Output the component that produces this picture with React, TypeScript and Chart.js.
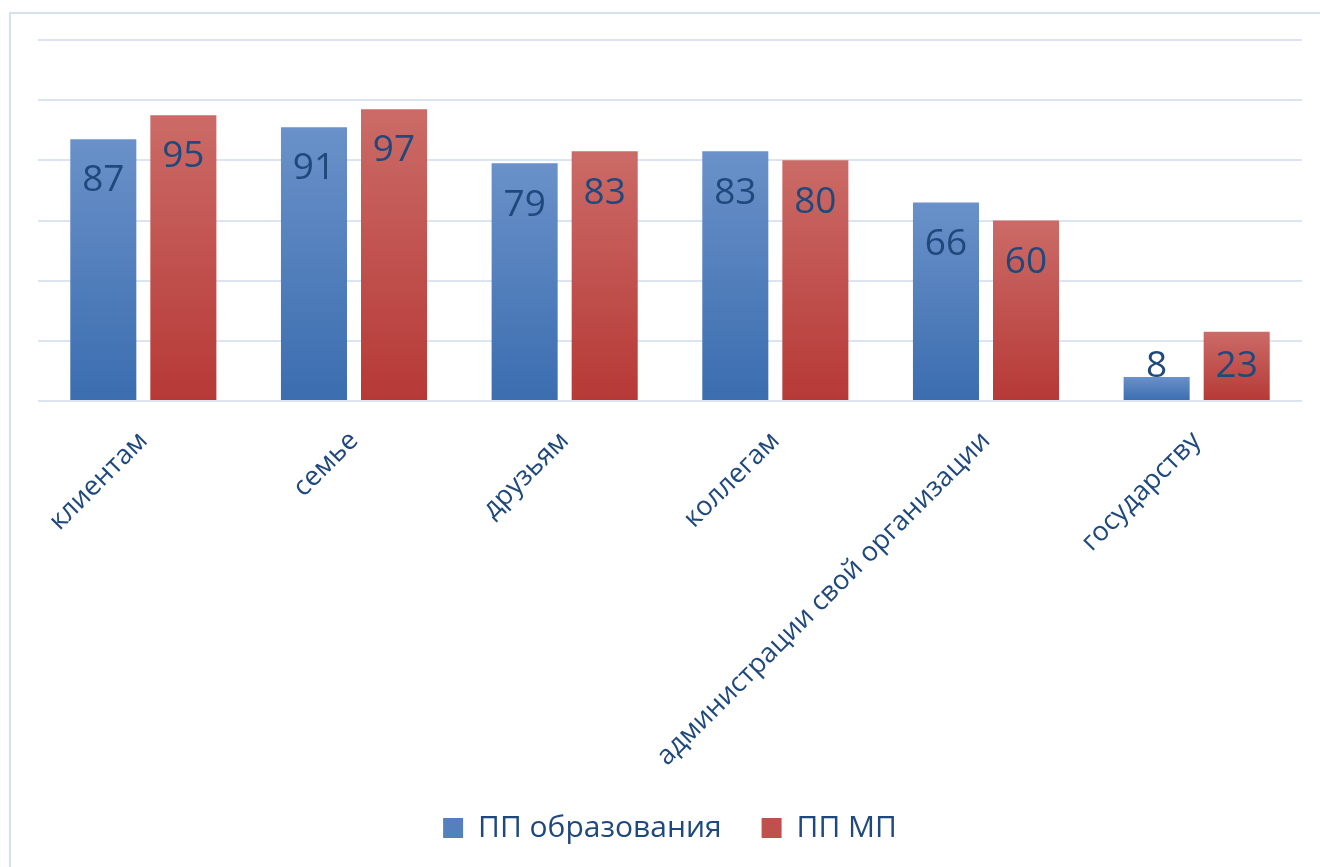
import React, { useEffect, useRef } from "react";
import { Chart, registerables } from "chart.js";

Chart.register(...registerables);

const categories = [
  "клиентам",
  "семье",
  "друзьям",
  "коллегам",
  "администрации свой организации",
  "государству",
];
const seriesNames = ["ПП образования", "ПП МП"];
const educationValues = [87, 91, 79, 83, 66, 8];
const mpValues = [95, 97, 83, 80, 60, 23];
const yMax = 120;
const yStep = 20;

const TEXT_COLOR = "#1F497D";
const FONT = "'Open Sans', 'Noto Sans', sans-serif";

const palettes = [
  { top: "#6A91C9", bottom: "#3B6DAF", mid: "#5580BE" },
  { top: "#CB6B67", bottom: "#B63936", mid: "#C0504D" },
];

function barGradient(idx: number) {
  return (ctx: any) => {
    const chart = ctx.chart;
    const pal = palettes[idx];
    if (ctx.type !== "data" || !chart.scales || !chart.scales.y) return pal.mid;
    const y = chart.scales.y;
    const top = y.getPixelForValue(ctx.raw);
    const bottom = y.getPixelForValue(0);
    if (!isFinite(top) || !isFinite(bottom) || Math.abs(bottom - top) < 1) return pal.mid;
    const g = chart.ctx.createLinearGradient(0, top, 0, bottom);
    g.addColorStop(0, pal.top);
    g.addColorStop(1, pal.bottom);
    return g;
  };
}

const frameAndLabels = {
  id: "frameAndLabels",
  beforeDraw(chart: any) {
    const c = chart.ctx;
    c.save();
    c.fillStyle = "#ffffff";
    c.fillRect(0, 0, chart.width, chart.height);
    c.strokeStyle = "#D6E1F0";
    c.lineWidth = 2;
    c.strokeRect(10, 13, chart.width + 100, chart.height + 100);
    c.restore();
  },
  afterDatasetsDraw(chart: any) {
    const c = chart.ctx;
    const size = 37;
    c.save();
    c.fillStyle = TEXT_COLOR;
    c.font = `${size}px ${FONT}`;
    c.textAlign = "center";
    c.textBaseline = "alphabetic";
    chart.data.datasets.forEach((ds: any, di: number) => {
      const meta = chart.getDatasetMeta(di);
      meta.data.forEach((el: any, i: number) => {
        const cy = Math.min(el.y + 39, el.base - 36.5);
        c.fillText(String(ds.data[i]), el.x, cy + size * 0.357);
      });
    });
    c.restore();
  },
};

export default function App() {
  const ref = useRef<HTMLCanvasElement | null>(null);
  useEffect(() => {
    if (!ref.current) return;
    const chart = new Chart(ref.current, {
      type: "bar",
      data: {
        labels: categories,
        datasets: [
          {
            label: seriesNames[0],
            data: educationValues,
            backgroundColor: barGradient(0),
            borderWidth: 0,
          },
          {
            label: seriesNames[1],
            data: mpValues,
            backgroundColor: barGradient(1),
            borderWidth: 0,
          },
        ],
      },
      options: {
        responsive: false,
        animation: false,
        categoryPercentage: 0.76,
        barPercentage: 0.825,
        layout: { padding: { left: 38, right: 18, top: 40, bottom: 14 } },
        plugins: {
          legend: {
            position: "bottom",
            labels: {
              boxWidth: 20,
              boxHeight: 20,
              padding: 40,
              color: TEXT_COLOR,
              font: { family: FONT, size: 30 },
              generateLabels: (chart: any) =>
                chart.data.datasets.map((ds: any, i: number) => ({
                  text: ds.label,
                  fillStyle: palettes[i].mid,
                  strokeStyle: palettes[i].mid,
                  lineWidth: 0,
                  fontColor: TEXT_COLOR,
                  datasetIndex: i,
                  hidden: false,
                })),
            },
          },
          tooltip: { enabled: false },
        },
        scales: {
          x: {
            grid: { display: false, drawTicks: false },
            border: { display: false },
            ticks: {
              color: TEXT_COLOR,
              font: { family: FONT, size: 27 },
              maxRotation: 45,
              minRotation: 45,
              padding: 24,
              autoSkip: false,
            },
            afterFit: (s: any) => {
              s.height = 372;
            },
          },
          y: {
            min: 0,
            max: yMax,
            ticks: { display: false, stepSize: yStep },
            grid: { color: "#DAE4F2", lineWidth: 2, drawTicks: false },
            border: { display: false },
            afterFit: (s: any) => {
              s.width = 0;
            },
          },
        },
      },
      plugins: [frameAndLabels],
    });
    return () => chart.destroy();
  }, []);
  return (
    <div style={{ position: "fixed", left: 0, top: 0, width: 1320, height: 867 }}>
      <canvas ref={ref} width={1320} height={867} />
    </div>
  );
}
